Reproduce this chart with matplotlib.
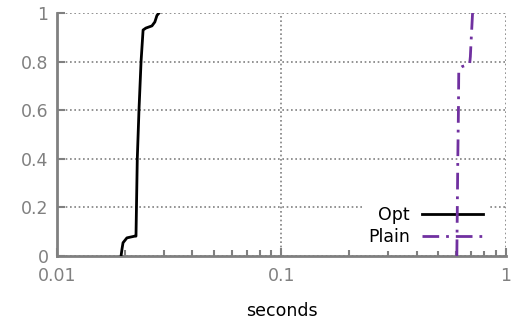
import matplotlib
matplotlib.use("Agg")
import matplotlib.pyplot as plt
from matplotlib.ticker import FixedLocator, LogLocator, NullFormatter

# CDF curves
opt_x = [0.0193, 0.0195, 0.0197, 0.0205, 0.0222, 0.0225, 0.0228, 0.0232, 0.0237, 0.0242,
         0.0249, 0.0265, 0.0273, 0.0279, 0.0285]
opt_y = [0.0, 0.03, 0.055, 0.075, 0.082, 0.082, 0.4, 0.6, 0.8, 0.93,
         0.938, 0.947, 0.963, 0.99, 1.0]

plain_x = [0.605, 0.608, 0.611, 0.615, 0.617, 0.622, 0.64, 0.69, 0.695, 0.70, 0.711]
plain_y = [0.0, 0.2, 0.4, 0.6, 0.76, 0.772, 0.78, 0.79, 0.82, 0.88, 1.0]

yticks = [0, 0.2, 0.4, 0.6, 0.8, 1]
ytick_labels = ["0", "0.2", "0.4", "0.6", "0.8", "1"]
xticks = [0.01, 0.1, 1]
xtick_labels = ["0.01", "0.1", "1"]

grey = "#808080"
purple = "#7030a0"

fig = plt.figure(figsize=(5.13, 3.25), dpi=100)
ax = fig.add_axes([0.111, 0.212, 0.875, 0.748])

ax.plot(opt_x, opt_y, color="black", lw=2, label="Opt", zorder=3)
ax.plot(plain_x, plain_y, color=purple, lw=2, linestyle=(0, (6, 2.5, 1, 2.5)),
        label="Plain", zorder=3)

ax.set_xscale("log")
ax.set_xlim(0.01, 1)
ax.set_ylim(0, 1)

ax.xaxis.set_major_locator(FixedLocator(xticks))
ax.set_xticklabels(xtick_labels)
ax.xaxis.set_minor_locator(LogLocator(base=10, subs=range(2, 10)))
ax.xaxis.set_minor_formatter(NullFormatter())
ax.set_yticks(yticks)
ax.set_yticklabels(ytick_labels)

ax.tick_params(axis="both", which="major", direction="in", length=6, width=1.5,
               color=grey, labelcolor=grey, labelsize=12.5, pad=6)
ax.tick_params(axis="x", which="minor", direction="in", length=4, width=1.5, color=grey)
ax.tick_params(axis="x", which="major", pad=8)

for side in ["top", "right"]:
    ax.spines[side].set_visible(False)
for side in ["left", "bottom"]:
    ax.spines[side].set_color(grey)
    ax.spines[side].set_linewidth(2)

ax.grid(True, which="major", color=grey, linestyle=(0, (1, 1.6)), linewidth=1.2)
ax.set_axisbelow(True)

ax.set_xlabel("seconds", fontsize=12.5, labelpad=12)

leg = ax.legend(loc="lower right", bbox_to_anchor=(0.98, -0.015), frameon=True,
                fontsize=12.5, markerfirst=False, handlelength=3.5, labelspacing=0.2,
                borderpad=0.3, handletextpad=0.7)
leg.get_frame().set_edgecolor("none")
leg.get_frame().set_facecolor("white")
leg.get_frame().set_alpha(1)
leg.set_zorder(2)
for t in leg.get_texts():
    t.set_ha("right")

fig.savefig("out.png", dpi=100)
